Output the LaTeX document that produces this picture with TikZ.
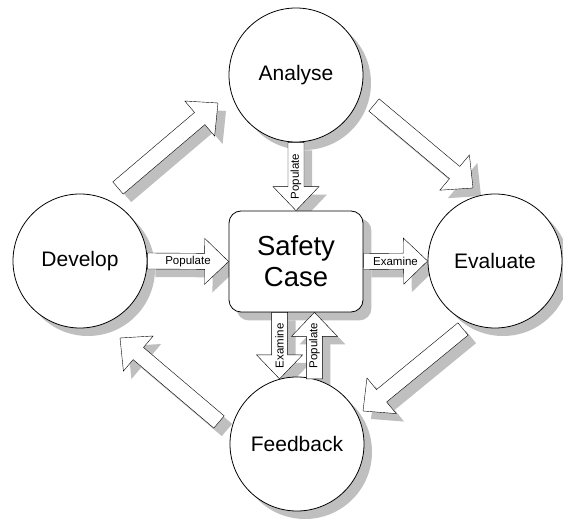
\documentclass[tikz,border=0pt]{standalone}
\usepackage{fontspec}
\setmainfont{Liberation Sans}
\usetikzlibrary{calc,backgrounds}

% outline of a block arrow from #2 to #3, head base at (hb)
\newcommand{\arrowoutline}[3]{%
  \path[#1] ($(#2)!8pt!90:(#3)$) -- ($(hb)!8pt!90:(#3)$) -- ($(hb)!23pt!90:(#3)$) -- (#3)
    -- ($(hb)!23pt!-90:(#3)$) -- ($(hb)!8pt!-90:(#3)$) -- ($(#2)!8pt!-90:(#3)$) -- cycle;}
% block arrow with its drop shadow
\newcommand{\blockarrow}[2]{%
  \coordinate (hb) at ($(#2)!24pt!(#1)$);
  \begin{pgfonlayer}{background}
    \begin{scope}[transform canvas={xshift=8pt, yshift=-8pt}]
      \arrowoutline{dropfill}{#1}{#2}
    \end{scope}
  \end{pgfonlayer}
  \arrowoutline{draw, fill=white, line join=miter}{#1}{#2}}

\begin{document}
\begin{tikzpicture}[x=1pt, y=-1pt, line width=0.8pt,
  stage/.style={circle, draw, fill=white, minimum size=134pt, inner sep=0pt, font=\fontsize{21}{25}\selectfont},
  casebox/.style={draw, fill=white, rounded corners=12pt, minimum width=134pt, minimum height=101pt, align=center, font=\fontsize{27.5}{31}\selectfont},
  tag/.style={font=\fontsize{11.5}{13}\selectfont, inner sep=0pt},
  dropfill/.style={fill=black!25}]
	\useasboundingbox (0,0) rectangle (563,521);

	\node[stage] (analyse) at (296,75) {Analyse};
	\node[stage] (develop) at (80,261) {Develop};
	\node[stage] (evaluate) at (495,261) {Evaluate};
	\node[stage] (feedback) at (297,444) {Feedback};
	\node[casebox] (box) at (296,261.5) {Safety\\Case};

	% shadows of the stages and the case
	\begin{pgfonlayer}{background}
		\begin{scope}[transform canvas={xshift=8pt, yshift=-8pt}]
			\foreach \n in {analyse,develop,evaluate,feedback}
				\fill[dropfill] (\n) circle (67);
			\fill[dropfill, rounded corners=12pt] (box.north west) rectangle (box.south east);
		\end{scope}
	\end{pgfonlayer}

	% the cycle
	\coordinate (devTail) at (118,188);  \coordinate (anaTip) at (218,103);
	\coordinate (anaTail) at (374,105);  \coordinate (evaTip) at (473,188);
	\coordinate (evaTail) at (463,329);  \coordinate (fbTip) at (363,411);
	\coordinate (fbTail) at (219,422);   \coordinate (devTip) at (120,338);
	\blockarrow{devTail}{anaTip}
	\blockarrow{anaTail}{evaTip}
	\blockarrow{evaTail}{fbTip}
	\blockarrow{fbTail}{devTip}

	% links with the case
	\coordinate (exTop) at (box.south -| feedback.105);
	\coordinate (popTop) at (box.south -| feedback.75);
	\blockarrow{develop.east}{box.west}
	\blockarrow{box.east}{evaluate.west}
	\blockarrow{analyse.south}{box.north}
	\blockarrow{exTop}{feedback.105}
	\blockarrow{feedback.75}{popTop}

	\node[tag] (popDev) at ($(develop.east)!0.5!(box.west)$) {Populate};
	\node[tag] (exEva) at ($(box.east)!0.5!(evaluate.west)$) {Examine};
	\node[tag, rotate=90] (popAna) at ($(analyse.south)!0.5!(box.north)$) {Populate};
	\node[tag, rotate=90] (exFb) at ($(exTop)!0.5!(feedback.105)$) {Examine};
	\node[tag, rotate=90] (popFb) at ($(feedback.75)!0.5!(popTop)$) {Populate};
\end{tikzpicture}
\end{document}
